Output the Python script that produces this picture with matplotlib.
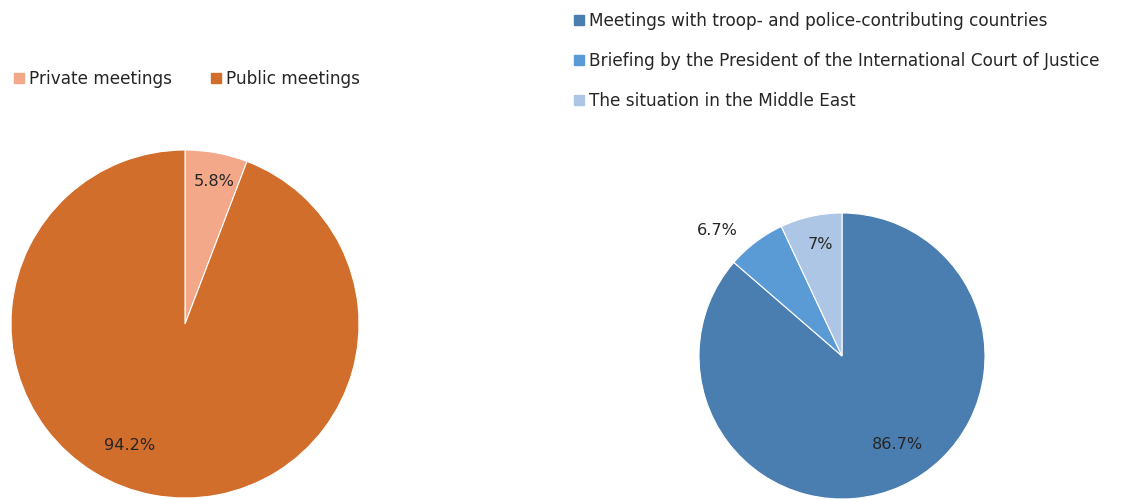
import matplotlib.pyplot as plt
from matplotlib.patches import Patch

plt.rcParams['font.family'] = ['DejaVu Sans']

# left pie: meeting type
left_labels = ['Private meetings', 'Public meetings']
left_values = [5.8, 94.2]
left_colors = ['#F2A889', '#D16E2B']
left_label_pos = [(0.17, 0.82), (-0.32, -0.70)]

# right pie: topics
right_labels = ['Meetings with troop- and police-contributing countries',
                'Briefing by the President of the International Court of Justice',
                'The situation in the Middle East']
right_values = [86.7, 6.7, 7]
right_colors = ['#4A7EB0', '#5B9BD5', '#ADC6E5']
right_label_pos = [(0.39, -0.62), (-0.87, 0.88), (-0.15, 0.78)]

text_color = '#262626'
fs = 12.2
W, H = 1129, 499

fig = plt.figure(figsize=(W / 100, H / 100), dpi=100)


def pie_axes(cx, cy, r):
    # pixel centre / radius -> figure fraction axes
    return fig.add_axes([(cx - r) / W, (H - cy - r) / H, 2 * r / W, 2 * r / H])


def draw_pie(ax, values, colors, label_pos):
    ax.pie(values, colors=colors, startangle=90, counterclock=False,
           wedgeprops=dict(edgecolor='white', linewidth=0.8))
    for v, (x, y) in zip(values, label_pos):
        ax.text(x, y, f'{v:g}%', ha='center', va='center',
                fontsize=11.6, color=text_color, clip_on=False)
    ax.set_xlim(-1, 1)
    ax.set_ylim(-1, 1)
    ax.set_aspect('auto')
    ax.axis('off')


ax1 = pie_axes(185, 324, 174)
draw_pie(ax1, left_values, left_colors, left_label_pos)

ax2 = pie_axes(842, 356, 143)
draw_pie(ax2, right_values, right_colors, right_label_pos)

legend_kw = dict(frameon=False, loc='upper left', fontsize=fs,
                 handlelength=0.6, handleheight=0.6, handletextpad=0.3,
                 borderpad=0, borderaxespad=0, labelcolor=text_color)

left_handles = [Patch(color=c) for c in left_colors]
fig.legend(left_handles, left_labels, ncol=2, columnspacing=2.3,
           bbox_to_anchor=(14 / W, 1 - 70 / H), **legend_kw)

right_handles = [Patch(color=c) for c in right_colors]
fig.legend(right_handles, right_labels, ncol=1, labelspacing=1.3,
           bbox_to_anchor=(574 / W, 1 - 12 / H), **legend_kw)

fig.savefig('out.png', dpi=100)
